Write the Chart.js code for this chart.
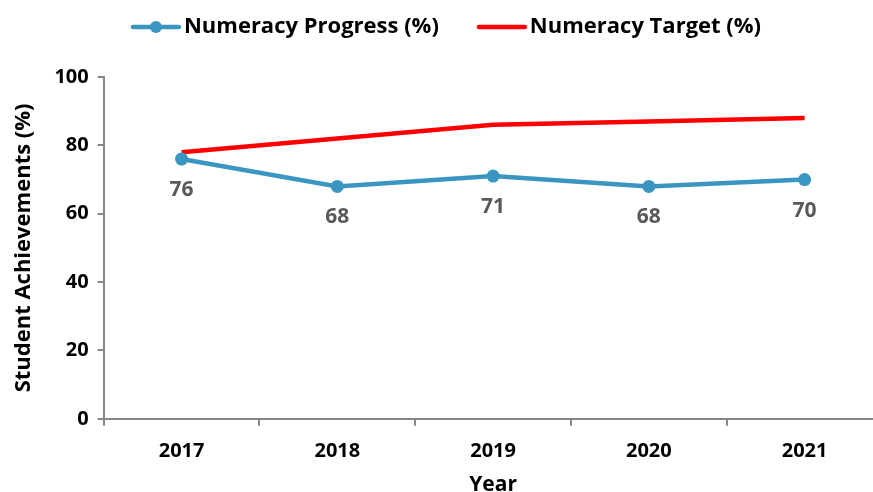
<!DOCTYPE html>
<html><head><meta charset="utf-8">
<script src="https://cdn.jsdelivr.net/npm/chart.js@4"></script>
<style>html,body{margin:0;padding:0;overflow:hidden;background:#fff;width:873px;height:492px}#wrap{width:889px;height:492px}</style>
</head><body><div id="wrap"><canvas id="c" width="889" height="492"></canvas></div>
<script>
const years = ['2017','2018','2019','2020','2021'];
const progress = [76, 68, 71, 68, 70];
const target = [78, 82, 86, 87, 88];
const yTicks = [0, 20, 40, 60, 80, 100];

const FONT = "'Open Sans',sans-serif";
const BLUE = '#3A96C0', RED = '#FF0000', AXIS = '#868686';

function legendIcon(color, dot){
  const c = document.createElement('canvas'); c.width = 52; c.height = 14;
  const g = c.getContext('2d');
  g.strokeStyle = color; g.lineWidth = 4.5; g.lineCap = 'round';
  g.beginPath(); g.moveTo(3,7); g.lineTo(49,7); g.stroke();
  if (dot){ g.fillStyle = color; g.beginPath(); g.arc(26,7,6,0,Math.PI*2); g.fill(); }
  return c;
}

const labelPlugin = {
  id:'vals',
  afterDatasetsDraw(chart){
    const ctx = chart.ctx; const meta = chart.getDatasetMeta(0);
    ctx.save(); ctx.fillStyle = '#595959'; ctx.font = "bold 21px " + FONT;
    ctx.textAlign = 'center'; ctx.textBaseline = 'middle';
    meta.data.forEach((p,i)=>{ ctx.fillText(String(progress[i]), p.x, p.y + 31); });
    ctx.restore();
  }
};
const legendGap = {
  id:'legendGap',
  beforeInit(chart){
    const lg = chart.legend; const fit = lg.fit;
    lg.fit = function(){ fit.call(this); this.height += 29; };
  }
};

new Chart(document.getElementById('c'), {
  type:'line',
  data:{ labels: years, datasets:[
    { label:'Numeracy Progress (%)', data: progress, borderColor: BLUE, backgroundColor: BLUE,
      borderWidth:4.5, pointRadius:6.5, pointHoverRadius:6.5, pointBackgroundColor: BLUE, pointBorderWidth:0, tension:0 },
    { label:'Numeracy Target (%)', data: target, borderColor: RED, backgroundColor: RED,
      borderWidth:4.5, pointRadius:0, tension:0 }
  ]},
  options:{
    responsive:false, animation:false, devicePixelRatio:1,
    layout:{ padding:{ left:11, right:0, top:-30, bottom:-6 } },
    plugins:{
      legend:{ position:'top', labels:{ usePointStyle:true, pointStyleWidth:34, padding:46, color:'#000',
        font:{ family: FONT, size:22, weight:'bold' },
        generateLabels(chart){
          return chart.data.datasets.map((d,i)=>({ text:d.label, pointStyle: legendIcon(d.borderColor, i===0),
            fillStyle:d.borderColor, strokeStyle:d.borderColor, lineWidth:0, datasetIndex:i, hidden:false, fontColor:'#000' }));
        } } },
      tooltip:{ enabled:false }
    },
    scales:{
      x:{ offset:true, grid:{ offset:true, drawOnChartArea:false, drawTicks:true, tickLength:7, color:AXIS, tickColor:AXIS, lineWidth:2 },
        border:{ color:AXIS, width:2 },
        ticks:{ color:'#000', padding:13, font:{ family:FONT, size:20, weight:'bold' } },
        title:{ display:true, text:'Year', color:'#000', padding:{top:-3, bottom:0}, font:{ family:FONT, size:21, weight:'bold' } } },
      y:{ min:0, max:100, afterBuildTicks(ax){ ax.ticks = yTicks.map(v=>({value:v})); },
        grid:{ drawOnChartArea:false, tickLength:6, color:AXIS, tickColor:AXIS, lineWidth:2 },
        border:{ color:AXIS, width:2 },
        ticks:{ color:'#000', padding:9, font:{ family:FONT, size:20, weight:'bold' } },
        title:{ display:true, text:'Student Achievements (%)', color:'#000', padding:{top:0,bottom:8}, font:{ family:FONT, size:22, weight:'bold' } } }
    }
  },
  plugins:[labelPlugin, legendGap]
});
</script></body></html>
